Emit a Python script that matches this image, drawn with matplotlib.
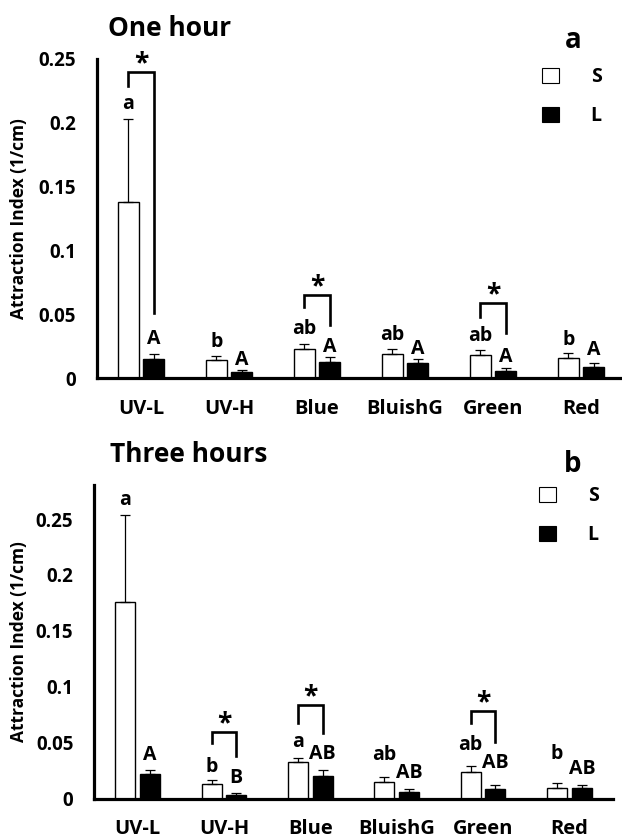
import matplotlib
matplotlib.use("Agg")
import matplotlib.pyplot as plt
import matplotlib.patches as mpatches
from matplotlib.ticker import FuncFormatter
import numpy as np

plt.rcParams['font.family'] = ['Open Sans', 'DejaVu Sans']
plt.rcParams['font.weight'] = 'bold'

categories = ['UV-L', 'UV-H', 'Blue', 'BluishG', 'Green', 'Red']

one_s = [0.138, 0.0144, 0.0227, 0.0191, 0.018, 0.016]
one_s_err = [0.065, 0.0034, 0.0044, 0.0036, 0.004, 0.0036]
one_l = [0.015, 0.0048, 0.0131, 0.0123, 0.0061, 0.0087]
one_l_err = [0.004, 0.0016, 0.0034, 0.0029, 0.0023, 0.0034]

three_s = [0.1755, 0.0127, 0.0324, 0.015, 0.024, 0.0094]
three_s_err = [0.078, 0.0038, 0.0041, 0.0045, 0.0048, 0.0047]
three_l = [0.0216, 0.0029, 0.0204, 0.0061, 0.0088, 0.0097]
three_l_err = [0.0036, 0.002, 0.0051, 0.0027, 0.0036, 0.0027]

one_s_letters = ['a', 'b', 'ab', 'ab', 'ab', 'b']
one_l_letters = ['A', 'A', 'A', 'A', 'A', 'A']
three_s_letters = ['a', 'b', 'a', 'ab', 'ab', 'b']
three_l_letters = ['A', 'B', 'AB', 'AB', 'AB', 'AB']

# significance brackets: (category index, top, left leg end, right leg end)
one_brackets = [(0, 0.2395, 0.229, 0.051), (2, 0.065, 0.056, 0.0417), (4, 0.059, 0.048, 0.0357)]
three_brackets = [(1, 0.0598, 0.0493, 0.038), (2, 0.0836, 0.0673, 0.0583), (4, 0.0785, 0.0673, 0.0508)]

# letter padding above error bar (points)
one_s_pad = [7, 6, 7, 6.5, 7, 6]
one_l_pad = [7, 4, 4, 3.5, 4.5, 5.5]
three_s_pad = [7, 6, 8, 12, 11.5, 17]
three_l_pad = [7.5, 7, 8, 7.5, 12, 7.5]

W, H = 622, 839
fig = plt.figure(figsize=(W / 100, H / 100), dpi=100)


def px(x0, y0, x1, y1):
    return [x0 / W, 1 - y1 / H, (x1 - x0) / W, (y1 - y0) / H]


width = 0.232
off = 0.143


def panel(rect, s, se, l, le, sl, ll, spad, lpad, brackets, ylim, title, tag, title_xy, tag_xy,
          leg_xy, ylab_x):
    ax = fig.add_axes(rect)
    x = np.arange(len(categories))
    ax.bar(x - off, s, width, color='white', edgecolor='black', linewidth=1.0, zorder=2)
    ax.bar(x + off, l, width, color='black', edgecolor='black', linewidth=1.0, zorder=2)
    ax.errorbar(x - off, s, yerr=[np.zeros(len(s)), se], fmt='none', ecolor='black',
                elinewidth=0.9, capsize=3.6, capthick=0.9, zorder=3)
    ax.errorbar(x + off, l, yerr=[np.zeros(len(l)), le], fmt='none', ecolor='black',
                elinewidth=0.9, capsize=3.6, capthick=0.9, zorder=3)
    for i in range(len(categories)):
        ax.annotate(sl[i], (x[i] - off, s[i] + se[i]), xytext=(0, spad[i]), textcoords='offset points',
                    ha='center', va='baseline', fontsize=14, fontweight='bold', annotation_clip=False)
        ax.annotate(ll[i], (x[i] + off, l[i] + le[i]), xytext=(0, lpad[i]), textcoords='offset points',
                    ha='center', va='baseline', fontsize=14, fontweight='bold', annotation_clip=False)
    for (i, top, lb, rb) in brackets:
        ax.plot([i - off, i - off, i + off, i + off], [lb, top, top, rb], color='black',
                lw=1.9, solid_joinstyle='miter', clip_on=False, zorder=4)
        ax.annotate('*', (i, top), xytext=(0, 0.5), textcoords='offset points', ha='center',
                    va='baseline', fontsize=19, fontweight='bold', annotation_clip=False)
    ax.set_xlim(-0.5, len(categories) - 0.5)
    ax.set_ylim(0, ylim)
    ax.set_xticks(x)
    ax.set_xticklabels(categories, fontsize=14.5, fontweight='bold')
    ax.set_yticks([0, 0.05, 0.1, 0.15, 0.2, 0.25])
    ax.yaxis.set_major_formatter(FuncFormatter(lambda v, p: '%g' % round(v, 2)))
    ax.tick_params(axis='y', length=0, pad=15, labelsize=13.5)
    ax.tick_params(axis='x', length=0, pad=15)
    for t in ax.get_yticklabels():
        t.set_fontweight('bold')
    for sp in ['top', 'right']:
        ax.spines[sp].set_visible(False)
    ax.spines['left'].set_linewidth(2.3)
    ax.spines['bottom'].set_linewidth(2.3)
    ax.set_ylabel('Attraction Index (1/cm)', fontsize=12.5, fontweight='bold')
    ax.yaxis.set_label_coords(ylab_x, 0.5)
    fig.text(title_xy[0] / W, 1 - title_xy[1] / H, title, fontsize=19, fontweight='bold',
             ha='left', va='center')
    fig.text(tag_xy[0] / W, 1 - tag_xy[1] / H, tag, fontsize=20, fontweight='bold',
             ha='center', va='center')
    handles = [mpatches.Patch(facecolor='white', edgecolor='black', linewidth=0.8, label='S'),
               mpatches.Patch(facecolor='black', edgecolor='black', linewidth=0.8, label='L')]
    leg = ax.legend(handles=handles, loc='upper left', bbox_to_anchor=(leg_xy[0] / W, 1 - leg_xy[1] / H),
                    bbox_transform=fig.transFigure, frameon=False, fontsize=14,
                    handlelength=0.85, handleheight=0.85, handletextpad=1.65, labelspacing=1.0,
                    borderpad=0, borderaxespad=0)
    for t in leg.get_texts():
        t.set_fontweight('bold')
    return ax


panel(px(97, 59, 625, 378.5), one_s, one_s_err, one_l, one_l_err, one_s_letters, one_l_letters,
      one_s_pad, one_l_pad, one_brackets, 0.25, 'One hour', 'a', (108, 28), (573, 41), (542, 67), -0.131)
panel(px(94.3, 485.5, 612.7, 798.5), three_s, three_s_err, three_l, three_l_err, three_s_letters,
      three_l_letters, three_s_pad, three_l_pad, three_brackets, 0.28, 'Three hours', 'b', (110, 455),
      (573, 465), (539, 486), -0.128)

fig.savefig('out.png', dpi=100)
